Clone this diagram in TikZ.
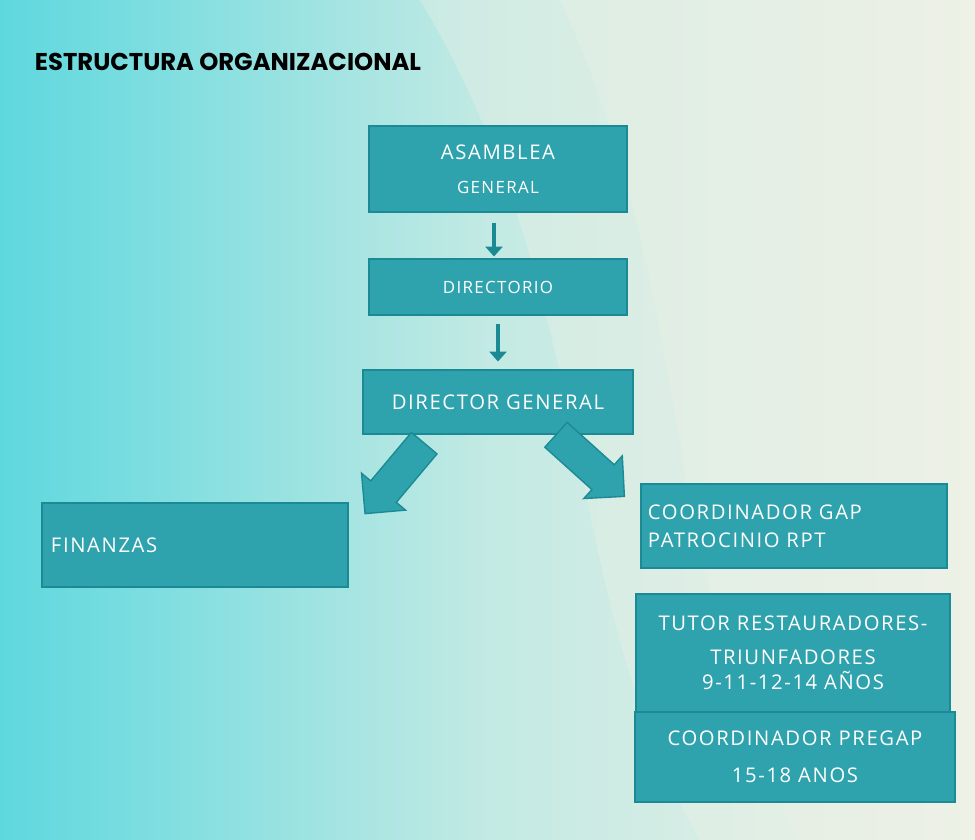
\documentclass[tikz,border=0pt]{standalone}
\usepackage{fontspec}
\setmainfont[LetterSpace=8]{Open Sans}
\newfontfamily\titlefont{Poppins}
\usetikzlibrary{positioning,shapes.arrows,calc,arrows.meta}
\definecolor{boxfill}{HTML}{2FA3AD}
\definecolor{boxline}{HTML}{1C8A94}
\definecolor{bgcyan}{HTML}{5ED8DE}
\definecolor{bgpale}{HTML}{EEF1E6}
\tikzset{
  orgbox/.style={draw=boxline, line width=1.5pt, fill=boxfill, text=white, font=\Large, align=center, inner sep=0pt},
  smallarrow/.style={boxline, line width=3pt, -{Triangle[length=7pt,width=12pt]}},
  bigarrow/.style={single arrow, draw=boxline, fill=boxfill, line width=1pt, minimum height=2.3cm, inner xsep=0pt, inner ysep=0.4cm, single arrow head extend=0.3cm}
}
\begin{document}
\begin{tikzpicture}[x=0.025cm,y=-0.025cm]
% background
\shade[left color=bgcyan, right color=bgpale, middle color=bgcyan!30!bgpale] (0,0) rectangle (975,840);
\fill[bgpale, opacity=0.35] (420,0) .. controls (600,300) and (560,600) .. (700,840) -- (975,840) -- (975,0) -- cycle;
\fill[bgpale, opacity=0.35] (560,0) .. controls (700,300) and (660,600) .. (800,840) -- (975,840) -- (975,0) -- cycle;
\useasboundingbox (0,0) rectangle (975,840);

\node[anchor=west, font=\titlefont\bfseries\LARGE] (title) at (30,62) {ESTRUCTURA ORGANIZACIONAL};

% boxes
\node[orgbox, minimum width=6.45cm, minimum height=2.15cm] (asamblea) at (498,169) {};
\node (asambleaA) at (498,152) [text=white, font=\Large] {ASAMBLEA};
\node (asambleaB) at (498,187) [text=white, font=\large] {GENERAL};
\node[orgbox, minimum width=6.45cm, minimum height=1.42cm] (directorio) at (498,287) {\large DIRECTORIO};
\node[orgbox, minimum width=6.75cm, minimum height=1.62cm] (director) at (498,402) {DIRECTOR GENERAL};
\node[orgbox, minimum width=7.65cm, minimum height=2.12cm, text width=7.2cm, align=left] (finanzas) at (195,545) {FINANZAS};
\node[orgbox, minimum width=7.65cm, minimum height=2.12cm, text width=7.3cm, align=left] (gap) at (794,526) {COORDINADOR GAP\\[2pt]PATROCINIO RPT};
\node[orgbox, minimum width=7.85cm, minimum height=2.95cm] (tutor) at (793,653) {TUTOR RESTAURADORES-\\[6pt]TRIUNFADORES\\[0pt]9-11-12-14 AÑOS};
\node[orgbox, minimum width=7.98cm, minimum height=2.27cm] (pregap) at (795,757) {COORDINADOR PREGAP\\[8pt]15-18 ANOS};

% arrows
\draw[smallarrow] (asamblea.south) ++(-4,10) coordinate (a1) -- ($(directorio.north)+(-4,-1)$);
\draw[smallarrow] (directorio.south) ++(0,8) coordinate (a2) -- ($(director.north)+(0,-7)$);
\node[bigarrow, rotate=-130] (leftarrow) at (400,472) {};
\node[bigarrow, rotate=-42] (rightarrow) at (584,460) {};
\end{tikzpicture}
\end{document}
